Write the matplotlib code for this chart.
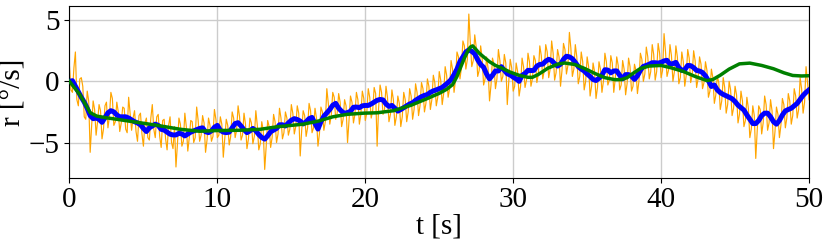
"""Yaw rate: raw measurement, filtered estimate and model prediction."""

import matplotlib

matplotlib.use("Agg")
import matplotlib.pyplot as plt
import numpy as np

# raw gyro samples at t = 0.0, 0.2, ..., 50.0 s
r_meas = [
    1.2, -0.9, 2.4, -2.0, 0.3, -2.9, -0.8, -5.8, -1.6, -4.4,
    -1.9, -4.7, -2.0, -3.8, -0.9, -3.6, -1.7, -4.1, -2.1, -3.9,
    -1.3, -4.0, -2.4, -4.9, -2.6, -5.3, -3.0, -4.8, -1.9, -4.6,
    -2.7, -5.4, -3.1, -5.6, -2.9, -5.5, -7.0, -3.0, -5.3, -2.6,
    -5.7, -3.2, -5.0, -2.1, -4.9, -2.8, -5.8, -3.0, -4.9, -2.3,
    -4.6, -2.9, -6.2, -3.1, -5.2, -2.5, -4.6, -2.0, -4.8, -2.6,
    -5.5, -3.0, -5.1, -2.4, -5.6, -3.3, -7.2, -3.2, -5.4, -2.7,
    -5.0, -2.2, -4.7, -2.5, -4.4, -1.9, -4.3, -2.0, -6.1, -2.4,
    -4.5, -1.8, -4.2, -2.2, -5.3, -2.1, -4.0, -0.6, -3.5, -0.9,
    -3.1, -1.0, -3.7, -1.5, -5.0, -1.2, -3.4, -0.9, -3.5, -0.8,
    -3.2, -0.6, -3.0, -0.5, -5.3, -0.3, -2.7, -0.4, -3.3, -0.7,
    -3.6, -1.2, -3.7, -0.9, -3.3, -0.6, -3.1, -0.2, -2.8, -0.1,
    -2.5, 0.2, -2.3, 0.5, -2.0, 0.8, -1.9, 1.2, -1.3, 1.7,
    -0.9, 2.4, 0.2, 3.3, 1.0, 5.5, 1.2, 3.8, 0.4, 2.9,
    -0.3, 2.0, -1.6, 1.9, -0.6, 2.6, 0.0, 2.2, -1.9, 1.8,
    -0.8, 1.5, -1.2, 1.9, -0.5, 2.3, -0.4, 2.1, -0.1, 2.9,
    0.2, 3.0, 0.3, 3.3, 0.1, 2.6, -0.4, 3.1, 0.6, 4.0,
    0.4, 3.0, -0.2, 2.4, -0.7, 2.0, -1.2, 1.5, -1.4, 1.6,
    -0.9, 2.3, -0.3, 2.1, -0.9, 2.0, -0.7, 1.7, -1.1, 1.9,
    -0.8, 1.4, -1.0, 2.3, 0.0, 2.8, 0.2, 3.0, 0.1, 3.1,
    0.3, 3.9, 0.4, 3.0, 0.0, 2.9, -0.2, 2.4, -0.4, 2.6,
    -0.1, 2.5, -0.5, 2.0, -0.6, 1.6, -1.3, 1.0, -1.8, 0.4,
    -2.3, 0.3, -2.6, 0.0, -2.8, -0.4, -3.4, -0.8, -3.7, -1.3,
    -4.6, -2.0, -6.3, -2.0, -4.3, -1.2, -4.0, -1.5, -5.5, -2.1,
    -4.6, -1.4, -3.8, -1.0, -3.5, -0.6, -3.0, 0.3, -2.6, 1.2,
    -1.5,
]

# raw gyro samples in between, at t = 0.1, 0.3, ..., 49.9 s
r_meas_mid = [
    -0.7, 1.1, -1.5, 0.2, -0.4, -3.1, -1.6, -3.6, -2.3, -3.3,
    -2.4, -3.9, -1.7, -2.9, -1.4, -3.3, -2.5, -3.4, -2.2, -4.2,
    -2.6, -3.0, -4.1, -2.8, -4.3, -3.4, -4.6, -3.0, -3.9, -2.9,
    -4.5, -3.2, -4.7, -3.6, -5.0, -3.7, -5.1, -3.5, -4.9, -3.7,
    -4.6, -3.3, -4.6, -3.2, -4.4, -3.4, -4.8, -3.6, -4.5, -3.1,
    -4.4, -3.5, -4.7, -3.6, -4.5, -3.0, -4.0, -2.9, -4.4, -3.5,
    -4.7, -3.4, -4.5, -3.6, -5.1, -4.0, -5.3, -3.7, -4.6, -3.3,
    -4.3, -3.0, -4.2, -3.0, -3.9, -2.6, -3.7, -2.6, -4.0, -2.8,
    -3.8, -2.4, -3.8, -3.0, -4.3, -2.5, -3.3, -1.8, -2.8, -1.3,
    -2.6, -1.7, -3.1, -2.0, -3.2, -1.7, -2.7, -1.5, -2.7, -1.4,
    -2.6, -1.3, -2.4, -1.0, -2.2, -0.9, -2.3, -1.3, -2.7, -1.5,
    -2.9, -1.8, -2.9, -1.5, -2.5, -1.2, -2.3, -0.9, -2.0, -0.6,
    -1.8, -0.4, -1.5, -0.1, -1.3, 0.1, -1.0, 0.5, -0.6, 1.0,
    0.1, 2.0, 1.1, 2.9, 1.8, 3.2, 1.7, 2.8, 0.9, 1.9,
    0.2, 1.1, -0.3, 1.4, 0.2, 1.7, 0.4, 1.5, -0.1, 1.1,
    -0.4, 0.8, -0.4, 1.2, 0.1, 1.6, 0.2, 1.7, 0.6, 2.1,
    0.9, 2.4, 1.0, 2.3, 0.7, 2.0, 0.9, 2.6, 1.3, 2.7,
    1.0, 2.0, 0.4, 1.6, 0.0, 1.2, -0.4, 0.8, -0.5, 1.0,
    0.0, 1.6, 0.1, 1.5, 0.2, 1.3, -0.3, 1.0, -0.2, 1.2,
    -0.4, 0.9, 0.0, 1.8, 0.6, 2.0, 0.8, 2.2, 0.8, 2.3,
    0.9, 2.4, 0.9, 2.1, 0.8, 2.0, 0.3, 1.6, 0.5, 1.9,
    0.5, 1.7, 0.2, 1.4, -0.1, 0.9, -0.8, 0.3, -1.1, -0.1,
    -1.6, -0.5, -1.9, -0.7, -2.2, -1.1, -2.7, -1.6, -3.2, -2.2,
    -3.9, -2.8, -4.0, -2.3, -3.4, -1.9, -3.4, -2.4, -4.1, -2.7,
    -3.6, -1.9, -3.0, -1.6, -2.8, -1.2, -2.3, -0.6, -1.7, -0.1,
]

# filtered estimate at t = 0.0, 0.2, ..., 50.0 s
r_filt = [
    0.0, 0.05, -0.4, -0.85, -1.3, -1.7, -2.2, -2.8, -3.05, -3.0,
    -3.1, -3.35, -2.97, -2.57, -2.4, -2.5, -2.75, -2.9, -2.9, -2.9,
    -3.0, -3.15, -3.3, -3.4, -3.55, -3.85, -4.1, -3.8, -3.65, -3.5,
    -3.6, -3.92, -3.98, -4.15, -4.32, -4.38, -4.38, -4.25, -4.3, -4.46,
    -4.3, -4.15, -4.05, -3.95, -3.85, -3.8, -4.12, -4.19, -4.05, -3.75,
    -3.6, -4.0, -4.15, -4.19, -4.15, -3.8, -3.45, -3.38, -3.65, -3.95,
    -4.19, -4.05, -3.85, -4.05, -4.35, -4.59, -4.72, -4.45, -4.12, -3.98,
    -3.85, -3.55, -3.55, -3.65, -3.4, -3.18, -3.05, -3.12, -3.25, -3.48,
    -3.3, -3.05, -2.95, -3.45, -3.9, -3.3, -2.85, -2.57, -2.3, -1.95,
    -1.8, -2.2, -2.45, -2.62, -2.55, -2.45, -2.12, -2.1, -2.15, -2.0,
    -1.97, -1.97, -1.85, -1.7, -1.55, -1.48, -1.52, -1.85, -2.05, -1.97,
    -2.2, -2.43, -2.3, -2.15, -2.0, -1.85, -1.75, -1.55, -1.4, -1.25,
    -1.15, -1.08, -0.9, -0.78, -0.7, -0.6, -0.5, -0.3, -0.1, 0.14,
    0.55, 1.0, 1.62, 2.0, 2.4, 2.57, 2.45, 2.25, 1.76, 1.38,
    1.15, 0.6, 0.2, 0.5, 0.85, 0.85, 1.2, 0.9, 0.62, 0.52,
    0.35, 0.2, 0.0, 0.49, 0.65, 0.9, 0.88, 0.9, 1.25, 1.38,
    1.41, 1.65, 1.8, 1.7, 1.45, 1.25, 1.4, 1.8, 2.05, 2.0,
    1.85, 1.55, 1.2, 1.0, 0.85, 0.6, 0.4, 0.15, 0.07, 0.25,
    0.5, 0.95, 0.92, 0.7, 0.85, 0.85, 0.5, 0.2, 0.55, 0.55,
    0.42, 0.16, 0.45, 0.9, 1.22, 1.3, 1.4, 1.52, 1.52, 1.49,
    1.55, 1.67, 1.72, 1.4, 1.45, 1.55, 1.12, 0.9, 0.95, 1.3,
    1.28, 1.12, 0.89, 0.84, 0.72, 0.45, 0.05, -0.42, -0.3, -0.7,
    -0.92, -1.07, -1.18, -1.3, -1.42, -1.65, -1.95, -2.15, -2.35, -2.75,
    -3.1, -3.45, -3.45, -3.2, -2.8, -2.6, -2.6, -2.9, -3.3, -3.5,
    -3.2, -2.75, -2.42, -2.3, -2.2, -2.0, -1.8, -1.48, -1.15, -0.9,
    -0.7,
]

# model prediction, sampled where the curve bends
t_model = [
    0.0, 0.7, 1.4, 1.84, 2.5, 3.2, 4.3, 5.9, 7.5, 8.8,
    10.0, 11.5, 12.9, 14.0, 15.8, 16.85, 17.8, 18.76, 19.9, 20.8,
    21.9, 23.1, 24.2, 25.0, 25.5, 25.9, 26.2, 26.47, 26.7, 26.92,
    27.1, 27.26, 27.45, 27.7, 28.0, 28.38, 28.8, 29.29, 29.8, 30.41,
    31.0, 31.3, 31.68, 32.0, 32.35, 33.03, 33.48, 34.16, 34.83, 35.51,
    36.2, 36.86, 37.3, 37.7, 38.1, 38.6, 39.2, 40.0, 40.7, 41.5,
    42.3, 43.1, 43.5, 44.0, 44.6, 45.3, 46.0, 46.8, 47.6, 48.3,
    48.9, 49.5, 50.0,
]
r_model = [
    0.0, -1.08, -2.56, -2.84, -2.98, -3.1, -3.3, -3.59, -3.92, -4.08,
    -4.02, -4.0, -3.92, -3.72, -3.5, -3.24, -2.9, -2.7, -2.6, -2.57,
    -2.4, -1.95, -1.4, -0.98, -0.65, -0.27, 0.4, 1.22, 1.9, 2.44,
    2.8, 2.9, 2.65, 2.3, 2.0, 1.62, 1.3, 1.05, 0.75, 0.49,
    0.33, 0.33, 0.55, 0.8, 1.08, 1.41, 1.5, 1.38, 1.05, 0.65,
    0.3, 0.14, 0.14, 0.3, 0.65, 1.05, 1.25, 1.3, 1.1, 0.81,
    0.4, 0.06, 0.15, 0.5, 1.0, 1.43, 1.49, 1.3, 1.03, 0.7,
    0.48, 0.44, 0.46,
]

t_grid = np.linspace(0, 50, len(r_filt))

# merge the two raw sample sets into one time-ordered series
t_raw = np.empty(len(r_meas) + len(r_meas_mid))
r_raw = np.empty_like(t_raw)
t_raw[0::2] = t_grid
t_raw[1::2] = t_grid[:-1] + 0.1
r_raw[0::2] = r_meas
r_raw[1::2] = r_meas_mid

plt.rcParams["font.family"] = ["Liberation Serif", "DejaVu Serif"]
plt.rcParams["font.size"] = 21

fig = plt.figure(figsize=(8.3, 2.44), dpi=100)
ax = fig.add_axes([0.0837, 0.272, 0.891, 0.702])

ax.plot(t_raw, r_raw, color="orange", linewidth=0.85, zorder=2)
ax.plot(t_grid, r_filt, color="blue", linewidth=3.6, zorder=3)
ax.plot(t_model, r_model, color="green", linewidth=2.5, zorder=4)

ax.set_xlim(0, 50)
ax.set_ylim(-7.87, 6.13)
ax.set_xticks([0, 10, 20, 30, 40, 50])
ax.set_yticks([-5, 0, 5])
ax.grid(True, color="#cccccc", linewidth=1)
ax.set_axisbelow(True)
ax.set_xlabel("t [s]", labelpad=0)
ax.set_ylabel("r [°/s]", labelpad=2)

fig.savefig("out.png", dpi=100)
